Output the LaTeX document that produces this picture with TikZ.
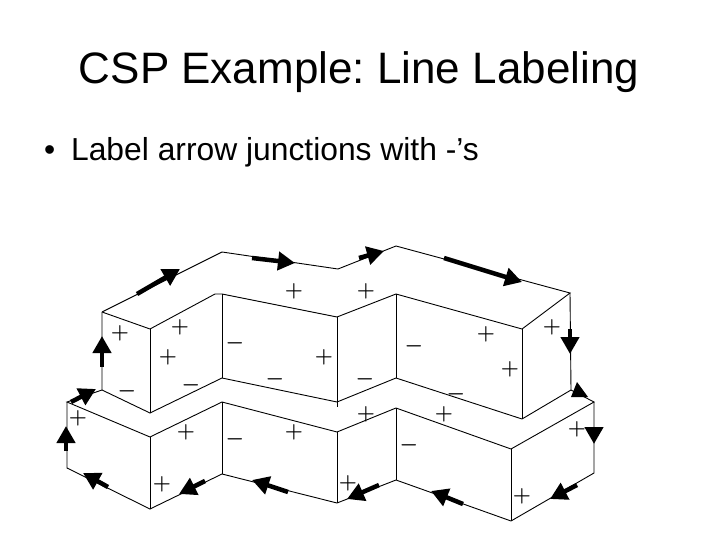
\documentclass[tikz,border=0pt]{standalone}
\usepackage{fontspec}
\setmainfont{Liberation Sans}
\usetikzlibrary{arrows.meta}
\tikzset{
  edge/.style={draw=black,line width=0.9pt},
  arr/.style={line width=4.5pt,draw=black,-{Triangle[length=17pt,width=18pt]}},
  sign/.style={inner sep=0pt,font=\fontsize{22}{22}\selectfont\boldmath},
  title/.style={inner sep=0pt,anchor=base,font=\fontsize{44}{48}\selectfont},
  bullet/.style={inner sep=0pt,anchor=base west,font=\fontsize{31.8}{36}\selectfont}
}
\begin{document}
\frenchspacing
\begin{tikzpicture}[x=1pt,y=-1pt]
\useasboundingbox (0,0) rectangle (720,540);
\fill[white] (0,0) rectangle (720,540);
\node[title] (t) at (359,84) {CSP Example: Line Labeling};
\node[bullet] (b) at (44,161) {•\hspace{7pt} Label arrow junctions with -’s};
\foreach \n/\x/\y in {a1/102/312,a2/222/252,a3/338/269,a4/396/246,a5/570/293,
  f1/150/329,f2/215/294,f3/222/294,f4/337/317,f5/396/294,f6/522/329,
  u1/102/390,u2/150/413,u3/222/378,u4/337/402,u5/396/378,u6/522/419,u7/571/390,
  l0/67/402,l1/150/437,l2/222/402,l3/337/432,l4/396/408,l5/511/449,l6/594/402,
  b0/67/468,b1/150/509,b2/222/474,b3/337/503,b4/396/480,b5/511/521,b6/594/473,tk/337/407}
  {\coordinate (\n) at (\x,\y);}
\draw[edge] (a1)--(a2)--(a3)--(a4)--(a5)--(f6)--(f5)--(f4)--(f3)--(f2)--(f1)--(a1);
\draw[edge] (a1)--(u1)--(u2)--(u3)--(u4)--(u5)--(u6)--(u7)--(a5);
\draw[edge] (f1)--(u2) (f3)--(u3) (f4)--(tk) (f5)--(u5) (f6)--(u6);
\draw[edge] (u1)--(l0)--(l1)--(l2)--(l3)--(l4)--(l5)--(l6)--(u7);
\draw[edge] (l0)--(b0)--(b1)--(b2)--(b3)--(b4)--(b5)--(b6)--(l6);
\draw[edge] (l1)--(b1) (l2)--(b2) (l3)--(b3) (l4)--(b4) (l5)--(b5);
\foreach \a/\b/\c/\d in {137/294/180/269,252/258/295/263,359/258/384/251,444/258/522/282,
  570/329/570/354,102/367/102/336,71/402/96/389,66/451/66/426,108/487/83/473,205/481/179/494,
  288/492/252/480,379/485/347/499,463/504/431/491,577/485/550/499,594/427/594/444}
  {\coordinate (s) at (\a,\b);\coordinate (e) at (\c,\d);\draw[arr] (s)--(e);}
\fill (571,397) -- (577,382) -- (588,397) -- cycle;
\foreach \x/\y in {120/333,180/327,168/357,294/291,324/357,366/291,486/334,552/327,510/369,
  78/418,186/432,294/432,162/484,366/414,444/414,577/429,348/483,522/496}
  {\node[sign] at (\x,\y) {$+$};}
\foreach \x/\y in {235/343,275/379,414/346,365/379,127/391,191/385,235/439,456/394,409/445}
  {\node[sign] at (\x,\y) {$-$};}
\end{tikzpicture}
\end{document}
